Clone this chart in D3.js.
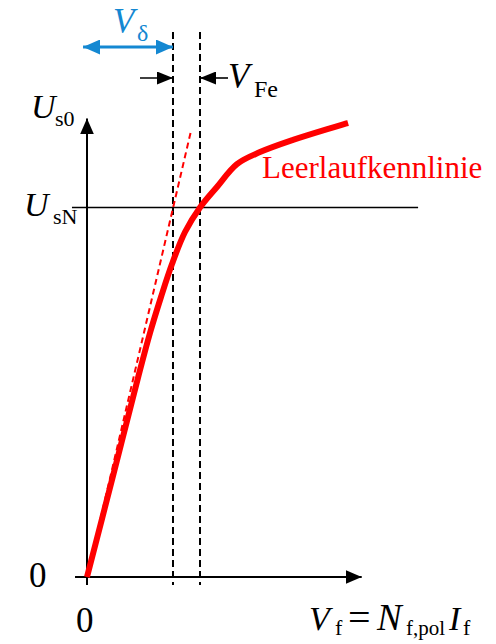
<!DOCTYPE html>
<html>
<head>
<meta charset="utf-8">
<script src="https://cdn.jsdelivr.net/npm/d3@7"></script>
<style>
  html, body { margin: 0; padding: 0; background: #fff; }
  svg { display: block; }
</style>
</head>
<body>
<svg id="chart" width="496" height="644" font-family="'Liberation Serif', 'Times New Roman', serif"></svg>
<script>
// Open-circuit characteristic (per-unit: field MMF V_f vs. stator voltage U_s0)
const curveV = [0, 0.230, 0.451, 0.5575, 0.6549, 0.7522, 0.8673, 1.000, 1.150, 1.327, 1.531, 1.823, 2.310];
const curveU = [0, 0.2733, 0.5386, 0.6604, 0.7578, 0.8471, 0.9337, 1.000, 1.0555, 1.1175, 1.150, 1.183, 1.229];

// Air-gap line (linear, unsaturated)
const airGapV = [0, 0.92];
const airGapU = [0, 1.207];

// Reference quantities
const ratedU = 1.0;      // U_sN
const ratedV = 1.0;      // field MMF at rated voltage
const deltaV = 0.761;    // MMF share of the air gap (V_delta)

const svg = d3.select("#chart");
const x = d3.scaleLinear().domain([0, 1]).range([87, 200]);
const y = d3.scaleLinear().domain([0, 1]).range([577, 207.5]);

const black = "#000";
const red = "#ff0000";
const blue = "#1488d2";

// arrowhead markers
const defs = svg.append("defs");
function marker(id, color, len, wid) {
  defs.append("marker")
    .attr("id", id)
    .attr("viewBox", `0 0 ${len} ${wid}`)
    .attr("refX", len).attr("refY", wid / 2)
    .attr("markerWidth", len).attr("markerHeight", wid)
    .attr("markerUnits", "userSpaceOnUse")
    .attr("orient", "auto-start-reverse")
    .append("path")
    .attr("d", `M0,0L${len},${wid / 2}L0,${wid}Z`)
    .attr("fill", color);
}
marker("axisHead", black, 16, 14);
marker("smallHead", black, 16, 13);
marker("blueHead", blue, 17, 15);

// axes
svg.append("line")
  .attr("x1", x(-0.106)).attr("x2", x(2.431))
  .attr("y1", y(0)).attr("y2", y(0))
  .attr("stroke", black).attr("stroke-width", 2)
  .attr("marker-end", "url(#axisHead)");
svg.append("line")
  .attr("x1", x(0)).attr("x2", x(0))
  .attr("y1", y(-0.0217)).attr("y2", y(1.241))
  .attr("stroke", black).attr("stroke-width", 2)
  .attr("marker-end", "url(#axisHead)");

// rated voltage line
svg.append("line")
  .attr("x1", x(-0.133)).attr("x2", x(2.93))
  .attr("y1", y(ratedU)).attr("y2", y(ratedU))
  .attr("stroke", black).attr("stroke-width", 1.6);

// dashed guides at V_delta and rated V
[deltaV, ratedV].forEach(v => {
  svg.append("line")
    .attr("x1", x(v)).attr("x2", x(v))
    .attr("y1", y(1.475)).attr("y2", y(-0.0217))
    .attr("stroke", black).attr("stroke-width", 2)
    .attr("stroke-dasharray", "7,4");
});

// air-gap line
const line = d3.line().x(d => x(d[0])).y(d => y(d[1]));
svg.append("path")
  .datum(d3.zip(airGapV, airGapU))
  .attr("d", line)
  .attr("fill", "none").attr("stroke", red).attr("stroke-width", 2)
  .attr("stroke-dasharray", "6,4");

// open-circuit characteristic
svg.append("path")
  .datum(d3.zip(curveV, curveU))
  .attr("d", line.curve(d3.curveCatmullRom.alpha(0.5)))
  .attr("fill", "none").attr("stroke", red).attr("stroke-width", 6)
  .attr("stroke-linecap", "butt").attr("stroke-linejoin", "round");

// V_delta dimension arrow
svg.append("line")
  .attr("x1", x(-0.035)).attr("x2", x(deltaV))
  .attr("y1", 47).attr("y2", 47)
  .attr("stroke", blue).attr("stroke-width", 3)
  .attr("marker-start", "url(#blueHead)")
  .attr("marker-end", "url(#blueHead)");

// V_Fe arrows pointing inward
svg.append("line")
  .attr("x1", x(deltaV) - 33).attr("x2", x(deltaV))
  .attr("y1", 78).attr("y2", 78)
  .attr("stroke", black).attr("stroke-width", 1.6)
  .attr("marker-end", "url(#smallHead)");
svg.append("line")
  .attr("x1", x(ratedV) + 28).attr("x2", x(ratedV))
  .attr("y1", 78).attr("y2", 78)
  .attr("stroke", black).attr("stroke-width", 1.6)
  .attr("marker-end", "url(#smallHead)");

// labels: each part placed at its own x / baseline
function label(parts, color) {
  const t = svg.append("text").attr("fill", color || black);
  parts.forEach(p => {
    const s = t.append("tspan").text(p.t)
      .attr("x", p.x).attr("y", p.y).attr("font-size", p.size);
    if (p.italic) s.attr("font-style", "italic");
  });
  return t;
}

label([{t: "U", x: 31, y: 118, size: 34, italic: true}, {t: "s0", x: 55, y: 126, size: 22}]);
label([{t: "U", x: 24, y: 216, size: 34, italic: true}, {t: "sN", x: 53, y: 224, size: 22}]);
label([{t: "0", x: 29, y: 587, size: 35}]);
label([{t: "0", x: 76, y: 632, size: 35}]);
label([{t: "V", x: 113, y: 33, size: 35, italic: true}, {t: "δ", x: 137, y: 41, size: 24}], blue);
label([{t: "V", x: 228, y: 88, size: 35, italic: true}, {t: "Fe", x: 254, y: 97, size: 24}]);
label([{t: "Leerlaufkennlinie", x: 262, y: 178, size: 31}], red);
label([
  {t: "V", x: 309, y: 630, size: 34, italic: true},
  {t: "f", x: 335, y: 635, size: 22},
  {t: "=", x: 348, y: 631, size: 40},
  {t: "N", x: 377, y: 630, size: 37, italic: true},
  {t: "f,pol", x: 406, y: 635, size: 21},
  {t: "I", x: 449, y: 630, size: 34, italic: true},
  {t: "f", x: 463, y: 635, size: 22}
]);
</script>
</body>
</html>
